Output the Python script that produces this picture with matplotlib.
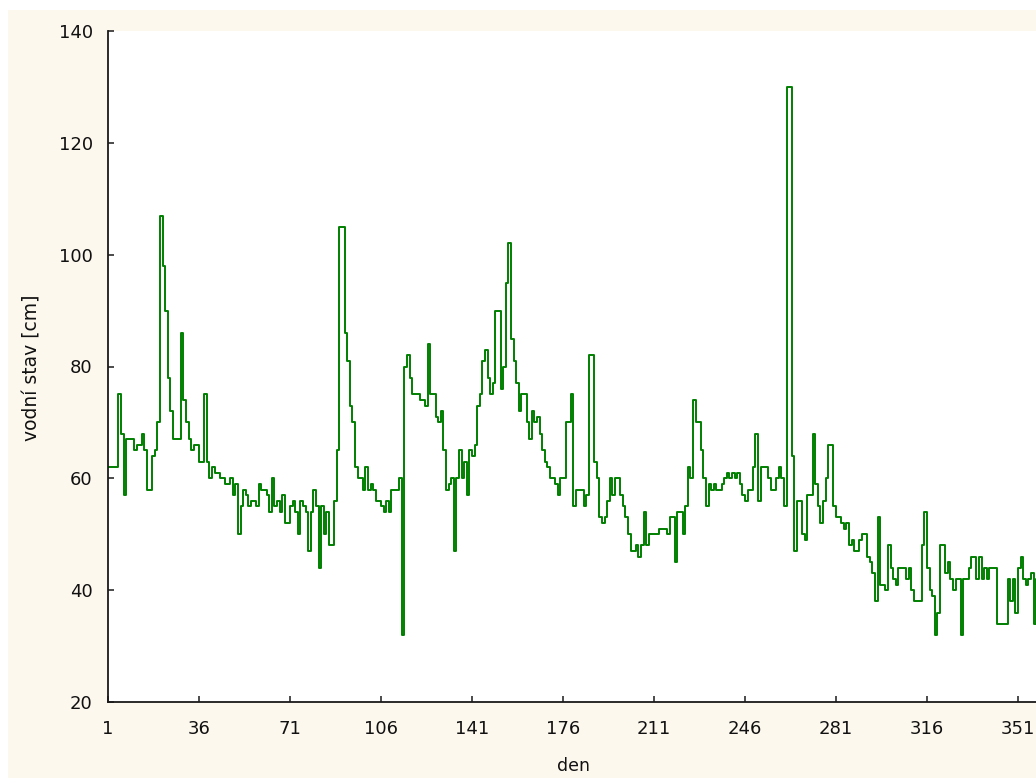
import matplotlib
matplotlib.use("Agg")
import matplotlib.pyplot as plt
from matplotlib.patches import Rectangle
import numpy as np

plt.rcParams['font.family'] = ['DejaVu Sans']

# daily water level [cm], days 1..365
level = [
    62, 62, 62, 62, 75, 68, 57, 67, 67, 67,   # 1-10
    65, 66, 66, 68, 65, 58, 58, 64, 65, 70,   # 11-20
    107, 98, 90, 78, 72, 67, 67, 67, 86, 74,  # 21-30
    70, 67, 65, 66, 66, 63, 63, 75, 63, 60,   # 31-40
    62, 61, 61, 60, 60, 59, 59, 60, 57, 59,   # 41-50
    50, 55, 58, 57, 55, 56, 56, 55, 59, 58,   # 51-60
    58, 57, 54, 60, 55, 56, 54, 57, 52, 52,   # 61-70
    55, 56, 54, 50, 56, 55, 54, 47, 54, 58,   # 71-80
    55, 44, 55, 50, 54, 48, 48, 56, 65, 105,  # 81-90
    105, 86, 81, 73, 70, 62, 60, 60, 58, 62,  # 91-100
    58, 59, 58, 56, 56, 55, 54, 56, 54, 58,   # 101-110
    58, 58, 60, 32, 80, 82, 78, 75, 75, 75,   # 111-120
    74, 74, 73, 84, 75, 75, 71, 70, 72, 65,   # 121-130
    58, 59, 60, 47, 60, 65, 60, 63, 57, 65,   # 131-140
    64, 66, 73, 75, 81, 83, 78, 75, 77, 90,   # 141-150
    90, 76, 80, 95, 102, 85, 81, 77, 72, 75,  # 151-160
    75, 70, 67, 72, 70, 71, 68, 65, 63, 62,   # 161-170
    60, 60, 59, 57, 60, 60, 70, 70, 75, 55,   # 171-180
    58, 58, 58, 55, 57, 82, 82, 63, 60, 53,   # 181-190
    52, 53, 56, 60, 57, 60, 60, 57, 55, 53,   # 191-200
    50, 47, 47, 48, 46, 48, 54, 48, 50, 50,   # 201-210
    50, 50, 51, 51, 51, 50, 53, 53, 45, 54,   # 211-220
    54, 50, 55, 62, 60, 74, 70, 70, 65, 60,   # 221-230
    55, 59, 58, 59, 58, 58, 59, 60, 61, 60,   # 231-240
    61, 60, 61, 59, 57, 56, 58, 58, 62, 68,   # 241-250
    56, 62, 62, 62, 60, 58, 58, 60, 62, 60,   # 251-260
    55, 130, 130, 64, 47, 56, 56, 50, 49, 57, # 261-270
    57, 68, 59, 55, 52, 56, 60, 66, 66, 55,   # 271-280
    53, 53, 52, 51, 52, 48, 49, 47, 47, 49,   # 281-290
    50, 50, 46, 45, 43, 38, 53, 41, 41, 40,   # 291-300
    48, 44, 42, 41, 44, 44, 44, 42, 44, 40,   # 301-310
    38, 38, 38, 48, 54, 44, 40, 39, 32, 36,   # 311-320
    48, 48, 43, 45, 42, 40, 42, 42, 32, 42,   # 321-330
    42, 44, 46, 46, 42, 46, 42, 44, 42, 44,   # 331-340
    44, 44, 34, 34, 34, 34, 42, 38, 42, 36,   # 341-350
    44, 46, 42, 41, 42, 43, 34, 42, 43, 41,   # 351-360
    42, 40, 42, 43, 42,                       # 361-365
]
days = list(range(1, len(level) + 1))

x_ticks = [1, 36, 71, 106, 141, 176, 211, 246, 281, 316, 351]
y_ticks = [20, 40, 60, 80, 100, 120, 140]

W, H = 1036, 778
fig = plt.figure(figsize=(W / 100, H / 100), dpi=100, facecolor='white')
fig.patches.append(Rectangle((8 / W, 0), 1, 1 - 10 / H, transform=fig.transFigure,
                             facecolor='#fdf8ee', edgecolor='none', zorder=-10))

left, right, top, bottom = 108, 1057, 31, 702
ax = fig.add_axes([left / W, (H - bottom) / H, (right - left) / W, (bottom - top) / H])
ax.set_facecolor('white')

xs = days + [days[-1] + 1]
ys = level + [level[-1]]
ax.step(xs, ys, where='post', color='#008000', linewidth=1.4)

ax.set_xlim(1, 366)
ax.set_ylim(20, 140)
ax.set_xticks(x_ticks)
ax.set_xticklabels([str(t) for t in x_ticks])
ax.set_yticks(y_ticks)
ax.set_yticklabels([str(t) for t in y_ticks])

for s in ['top', 'right']:
    ax.spines[s].set_visible(False)
for s in ['left', 'bottom']:
    ax.spines[s].set_color('#1a1a1a')
    ax.spines[s].set_linewidth(1.3)

ax.tick_params(axis='both', direction='in', length=4, width=1.1, color='#1a1a1a',
               labelsize=13, labelcolor='#111111')
ax.tick_params(axis='y', pad=11)
ax.tick_params(axis='x', pad=13)

fig.text(32 / W, 1 - 368 / H, 'vodní stav [cm]', rotation=90, ha='center', va='center',
         fontsize=13.5, color='#111111')
fig.text(573 / W, 1 - 766 / H, 'den', ha='center', va='center', fontsize=12.5, color='#111111')

fig.savefig('out.png', dpi=100, facecolor=fig.get_facecolor())
